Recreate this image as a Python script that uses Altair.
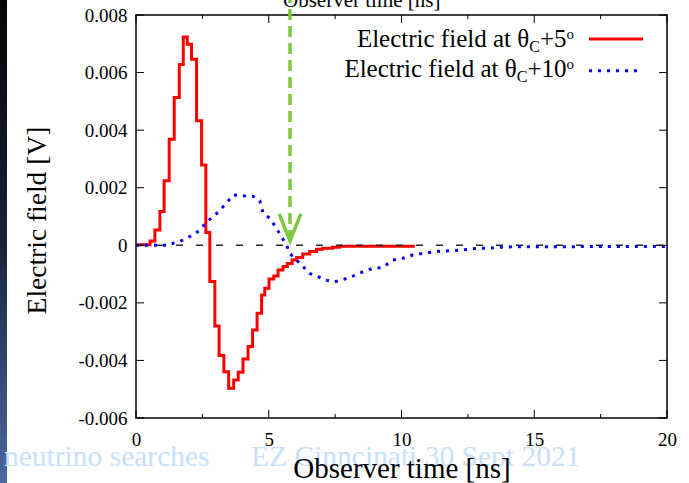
import altair as alt
import pandas as pd

# ---------------- data ----------------
# Electric field at theta_C + 5 deg (step histogram: left edge in ns, value in V)
red_t = [0.0, 0.53, 0.71, 0.90, 1.06, 1.25, 1.44, 1.63, 1.78, 1.93, 2.09, 2.28, 2.47, 2.63,
         2.78, 2.97, 3.13, 3.31, 3.49, 3.68, 3.85, 4.03, 4.22, 4.39, 4.56, 4.73, 4.85, 5.01,
         5.19, 5.35, 5.54, 5.70, 5.88, 6.05, 6.28, 6.54, 6.80, 7.03, 7.40, 7.67, 10.5]
red_v = [0.00002, 0.00015, 0.00053, 0.00117, 0.00224, 0.00368, 0.00513, 0.00628, 0.00724,
         0.00698, 0.00646, 0.00433, 0.00279, 0.00044, -0.00126, -0.0028, -0.00383, -0.00439,
         -0.00497, -0.00468, -0.00441, -0.00395, -0.00352, -0.00294, -0.00236, -0.00173,
         -0.00149, -0.00117, -0.00107, -0.00086, -0.00074, -0.00063, -0.00051, -0.00042,
         -0.0003, -0.00022, -0.00014, -0.0001, -0.00007, -0.00003, -0.00003]

# Electric field at theta_C + 10 deg
blue_t = [0.0, 1.2, 1.40, 1.65, 1.91, 2.15, 2.41, 2.66, 2.91, 3.16, 3.41, 3.66, 4.03, 4.41,
          4.66, 4.79, 5.04, 5.29, 5.48, 5.67, 5.79, 5.98, 6.23, 6.54, 6.85, 7.17, 7.48, 7.86,
          8.17, 8.55, 8.92, 9.30, 9.67, 10.05, 10.42, 10.80, 11.30, 11.80, 12.30, 12.81,
          13.31, 13.68, 14.31, 14.94, 20.0]
blue_v = [0.0, 0.0, 0.00007, 0.00013, 0.00025, 0.00036, 0.00053, 0.00082, 0.00099, 0.00122,
          0.00147, 0.00175, 0.00172, 0.0017, 0.00155, 0.00111, 0.00094, 0.00059, 0.0003,
          0.00001, -0.00028, -0.00045, -0.00068, -0.00098, -0.00109, -0.00121, -0.00127,
          -0.00117, -0.00107, -0.00092, -0.0008, -0.00077, -0.00051, -0.00045, -0.00034,
          -0.00028, -0.00022, -0.00019, -0.00016, -0.00011, -0.0001, -0.00007, -0.00005,
          -0.00005, -0.00004]

x_major = [0, 5, 10, 15, 20]
x_minor = [2.5, 7.5, 12.5, 17.5]
y_ticks = [-0.006, -0.004, -0.002, 0, 0.002, 0.004, 0.006, 0.008]

arrow_t = [5.8]
arrow_tip = [0.00015]
arrow_head = [0.00062]

# ---------------- chart ----------------
W, H = 531, 403
FONT = "Liberation Serif"
GREEN = "#7dc83c"

xs = alt.Scale(domain=[0, 20], nice=False, zero=False)
ys = alt.Scale(domain=[-0.006, 0.008], nice=False, zero=False)

red_df = pd.DataFrame({"t": red_t, "v": red_v})
blue_df = pd.DataFrame({"t": blue_t, "v": blue_v})
xmaj_df = pd.DataFrame({"t": x_major})
xmin_df = pd.DataFrame({"t": x_minor})
ytk_df = pd.DataFrame({"v": y_ticks})
arrow_df = pd.DataFrame({"t": arrow_t, "tip": arrow_tip, "head": arrow_head})
zero_df = pd.DataFrame({"v": [0]})
dummy = pd.DataFrame({"k": [0]})

x_axis = alt.Axis(values=x_major, ticks=False, domain=False, grid=False, format="d",
                  labelFont=FONT, labelFontSize=19, labelColor="black", labelPadding=12,
                  labelFlush=False, labelOverlap=False,
                  title="Observer time [ns]", titleFont=FONT, titleFontSize=29,
                  titleFontWeight="normal", titleColor="black",
                  titleBaseline="alphabetic", titleY=59, zindex=1)
y_axis = alt.Axis(values=y_ticks, ticks=False, domain=False, grid=False,
                  labelExpr="datum.value == 0 ? '0' : (datum.value < 0 ? '-' + format(-datum.value, '.3f') : format(datum.value, '.3f'))",
                  labelFont=FONT, labelFontSize=19, labelColor="black", labelPadding=9,
                  labelFlush=False, labelOverlap=False,
                  title="Electric field [V]", titleFont=FONT, titleFontSize=27.5,
                  titleFontWeight="normal", titleColor="black",
                  titleBaseline="alphabetic", titleX=-91, titleY=205, zindex=1)


def txt(s, x, y, size, color="black", align="left"):
    return alt.Chart(dummy).mark_text(text=s, font=FONT, fontSize=size, align=align,
                                      baseline="alphabetic", color=color).encode(
        x=alt.value(x), y=alt.value(y))


def X(field="t"):
    return alt.X(f"{field}:Q", scale=xs)


def Y(field="v"):
    return alt.Y(f"{field}:Q", scale=ys)


strip = alt.Chart(dummy).mark_rect(
    fill=alt.Gradient(gradient="linear",
                      stops=[alt.GradientStop(color="#050505", offset=0),
                             alt.GradientStop(color="#18223a", offset=0.5),
                             alt.GradientStop(color="#4d68a0", offset=1)],
                      x1=0, x2=0, y1=0, y2=1)
).encode(x=alt.value(-136), x2=alt.value(-129), y=alt.value(-15), y2=alt.value(H + 65))

WM = "#c9e0fa"
wm1 = txt("neutrino searches", -132, 451, 29.5, WM)
wm2 = txt("EZ Cinncinati 30 Sept 2021", 115, 451, 29.5, WM)

# red carries the axes (first layer with position fields)
red = alt.Chart(red_df).mark_line(interpolate="step-after", color="#ff0000", strokeWidth=3).encode(
    x=alt.X("t:Q", scale=xs, axis=x_axis), y=alt.Y("v:Q", scale=ys, axis=y_axis))

zero = alt.Chart(zero_df).mark_rule(color="#2a2a2a", strokeWidth=1.5, strokeDash=[7, 13]).encode(
    y=Y(), x=alt.value(0), x2=alt.value(W))

blue = alt.Chart(blue_df).mark_line(color="#0000ff", strokeWidth=3, strokeDash=[3, 6]).encode(
    x=X(), y=Y())

arrow_line = alt.Chart(arrow_df).mark_rule(color=GREEN, strokeWidth=3.5, strokeDash=[11, 6]).encode(
    x=X(), y=Y("tip"), y2=alt.value(-15))
arrow_headm = alt.Chart(arrow_df).mark_point(shape="M-0.8,-1L0,1L0.8,-1", filled=False,
                                             stroke=GREEN, strokeWidth=3.5, size=729, opacity=1).encode(
    x=X(), y=Y("head"))

TK = dict(color="black", strokeWidth=1)
xb_maj = alt.Chart(xmaj_df).mark_rule(**TK).encode(x=X(), y=alt.value(H), y2=alt.value(H - 8))
xt_maj = alt.Chart(xmaj_df).mark_rule(**TK).encode(x=X(), y=alt.value(0), y2=alt.value(8))
xb_min = alt.Chart(xmin_df).mark_rule(**TK).encode(x=X(), y=alt.value(H), y2=alt.value(H - 4))
xt_min = alt.Chart(xmin_df).mark_rule(**TK).encode(x=X(), y=alt.value(0), y2=alt.value(4))
yl = alt.Chart(ytk_df).mark_rule(**TK).encode(y=Y(), x=alt.value(0), x2=alt.value(8))
yr = alt.Chart(ytk_df).mark_rule(**TK).encode(y=Y(), x=alt.value(W), x2=alt.value(W - 8))

# legend (gnuplot style, inside top right)
LF, SF, PF = 25, 16, 15
leg = [
    txt("Electric field at \u03b8", 393.2, 31.7, LF, align="right"),
    txt("C", 403.9, 36.7, SF, align="right"),
    txt("+5", 430.5, 31.7, LF, align="right"),
    txt("o", 438, 24, PF, align="right"),
    txt("Electric field at \u03b8", 380.7, 61.7, LF, align="right"),
    txt("C", 391.4, 66.7, SF, align="right"),
    txt("+10", 430.5, 61.7, LF, align="right"),
    txt("o", 438, 54, PF, align="right"),
]
leg_red = alt.Chart(dummy).mark_rule(color="#ff0000", strokeWidth=3).encode(
    x=alt.value(453), x2=alt.value(507), y=alt.value(24))
leg_blue = alt.Chart(dummy).mark_rule(color="#0000ff", strokeWidth=3, strokeDash=[3, 6]).encode(
    x=alt.value(453), x2=alt.value(504), y=alt.value(55.7))

top_text = txt("Observer time [ns]", 147, -8, 21)

chart = alt.layer(
    strip, wm1, wm2, red, zero, blue, arrow_line, arrow_headm,
    xb_maj, xt_maj, xb_min, xt_min, yl, yr,
    *leg, leg_red, leg_blue, top_text
).properties(
    width=W, height=H,
    padding={"left": 136, "top": 15, "right": 22, "bottom": 65},
    autosize="none",
    background="white",
).configure_view(stroke="#000000", strokeWidth=1.5)

chart.save("out.html", embed_options={"renderer": "svg", "actions": False})
